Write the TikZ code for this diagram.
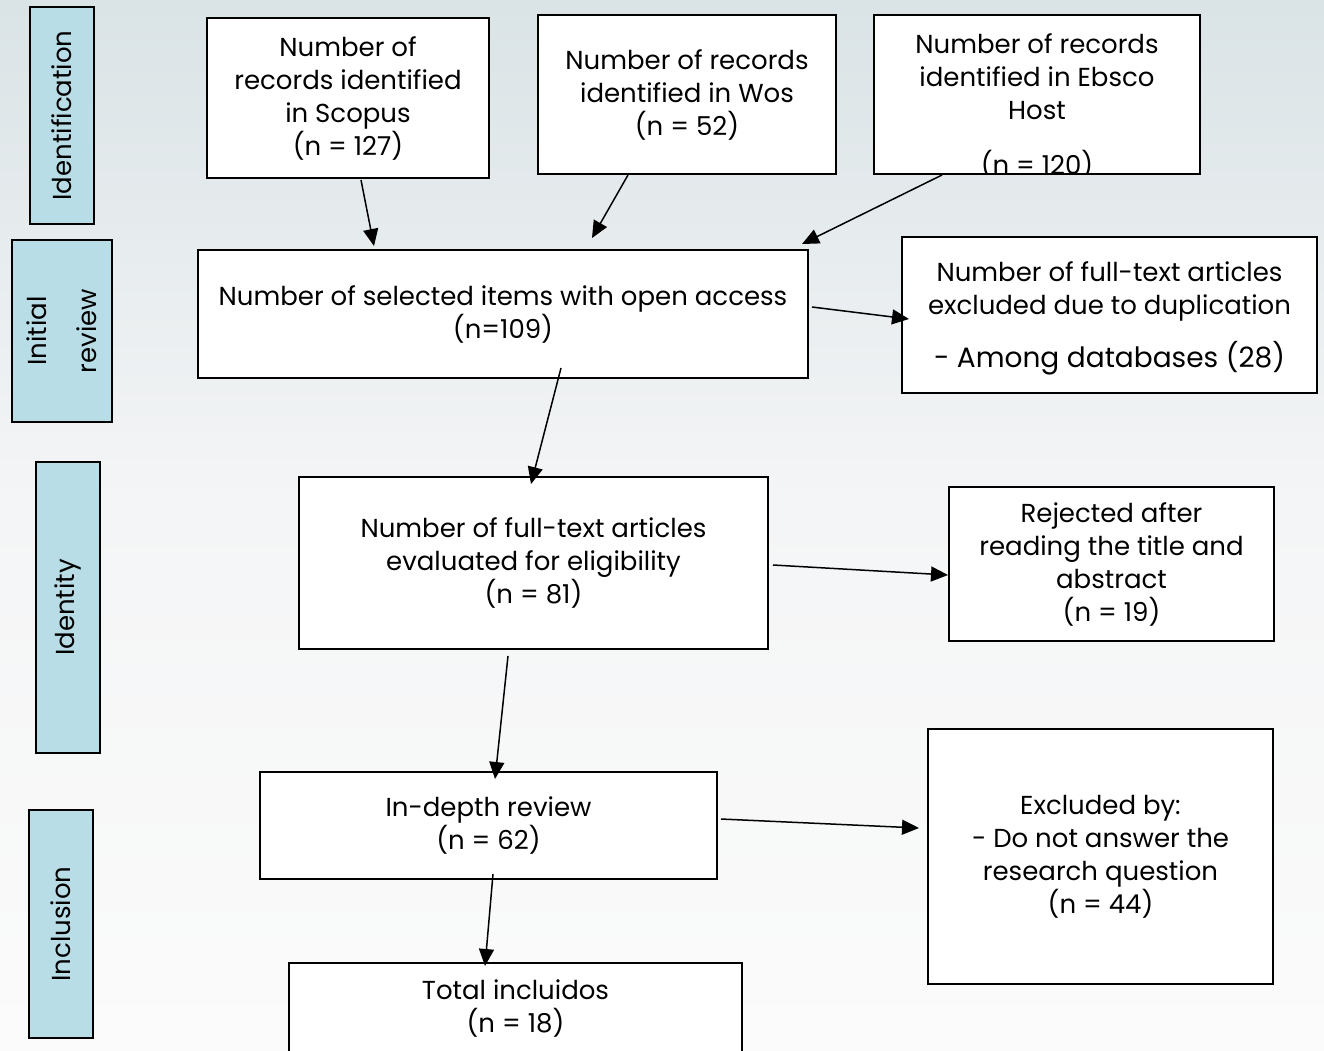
\documentclass[tikz,border=0pt]{standalone}
\usepackage{fontspec}
\newfontfamily\gf{Poppins}
\usetikzlibrary{arrows.meta}
\definecolor{sidefill}{HTML}{B8DDE6}
\definecolor{bgtop}{HTML}{DAE3E6}
\definecolor{bgmid}{HTML}{F4F5F6}
\definecolor{bgbot}{HTML}{FBFBFB}
\tikzset{
  box/.style={draw=black, fill=white, line width=1.4pt, inner sep=0pt, align=center,
    font=\gf\fontsize{26}{33}\selectfont},
  side/.style={draw=black, fill=sidefill, line width=1.4pt, inner sep=0pt, align=center,
    rotate=90, font=\gf\fontsize{26}{33}\selectfont},
  txt/.style={inner sep=0pt, align=center, font=\gf\fontsize{26}{33}\selectfont},
  arr/.style={line width=1.5pt, -{Triangle[length=17pt,width=15pt]}},
}
\begin{document}
\begin{tikzpicture}[x=1pt,y=-1pt]
\useasboundingbox (0,0) rectangle (1324,1050);
\shade[top color=bgtop, bottom color=bgmid] (0,0) rectangle (1324,500);
\shade[top color=bgmid, bottom color=bgbot] (0,500) rectangle (1324,1050);

% side labels
\node[side, minimum width=217pt, minimum height=64pt] (ident) at (62,115.5) {Identification};
\node[side, minimum width=182pt, minimum height=100pt] (initrev) at (62,331) {Initial\\[17pt]review};
\node[side, minimum width=291pt, minimum height=64pt] (identity) at (68,607.5) {Identity};
\node[side, minimum width=228pt, minimum height=64pt] (inclusion) at (61,924) {Inclusion};

% main boxes
\node[box, minimum width=282pt, minimum height=160pt] (scopus) at (348,98)
  {Number of\\records identified\\in Scopus\\(n = 127)};
\node[box, minimum width=298pt, minimum height=159pt] (wos) at (687,94.5)
  {Number of records\\identified in Wos\\(n = 52)};
\node[box, minimum width=326pt, minimum height=159pt] (ebsco) at (1037,94.5) {};
\begin{scope}
  \clip (ebsco.south west) rectangle (ebsco.north east);
  \node[txt] (ebscotext) at (1037,106) {Number of records\\identified in Ebsco\\Host\\[22pt](n = 120)};
\end{scope}
\draw[line width=1.4pt] (ebsco.south west) rectangle (ebsco.north east);

\node[box, minimum width=610pt, minimum height=128pt] (open) at (503,314)
  {Number of selected items with open access\\(n=109)};
\node[box, minimum width=415pt, minimum height=156pt] (dup) at (1109.5,315) {};
\node[txt] (duptext) at (1109.5,318)
  {Number of full-text articles\\excluded due to duplication\\[20pt]{\fontsize{28}{33}\selectfont - Among databases (28)}};
\node[box, minimum width=469pt, minimum height=172pt] (elig) at (533.5,563)
  {Number of full-text articles\\evaluated for eligibility\\(n = 81)};
\node[box, minimum width=325pt, minimum height=154pt] (rej) at (1111.5,564)
  {Rejected after\\reading the title and\\abstract\\(n = 19)};
\node[box, minimum width=457pt, minimum height=107pt] (indepth) at (488.5,825.5)
  {In-depth review\\(n = 62)};
\node[box, minimum width=345pt, minimum height=255pt] (excl) at (1100.5,856.5)
  {Excluded by:\\- Do not answer the\\research question\\(n = 44)};
\node[box, minimum width=453pt, minimum height=91pt] (total) at (515.5,1008.5)
  {Total incluidos\\(n = 18)};

% connector end points
\coordinate (s1) at (361,180);  \coordinate (e1) at (374,246);
\coordinate (s2) at (628,175);  \coordinate (e2) at (592,238);
\coordinate (s3) at (942,175);  \coordinate (e3) at (802,244);
\coordinate (s4) at (812,307);  \coordinate (e4) at (909,319);
\coordinate (s5) at (561,368);  \coordinate (e5) at (531,484);
\coordinate (s6) at (773,565);  \coordinate (e6) at (948,575);
\coordinate (s7) at (508,656);  \coordinate (e7) at (495,779);
\coordinate (s8) at (721,819);  \coordinate (e8) at (919,828);
\coordinate (s9) at (493,874);  \coordinate (e9) at (485,966);

\draw[arr] (s1) -- (e1);
\draw[arr] (s2) -- (e2);
\draw[arr] (s3) -- (e3);
\draw[arr] (s4) -- (e4);
\draw[arr] (s5) -- (e5);
\draw[arr] (s6) -- (e6);
\draw[arr] (s7) -- (e7);
\draw[arr] (s8) -- (e8);
\draw[arr] (s9) -- (e9);
\end{tikzpicture}
\end{document}
